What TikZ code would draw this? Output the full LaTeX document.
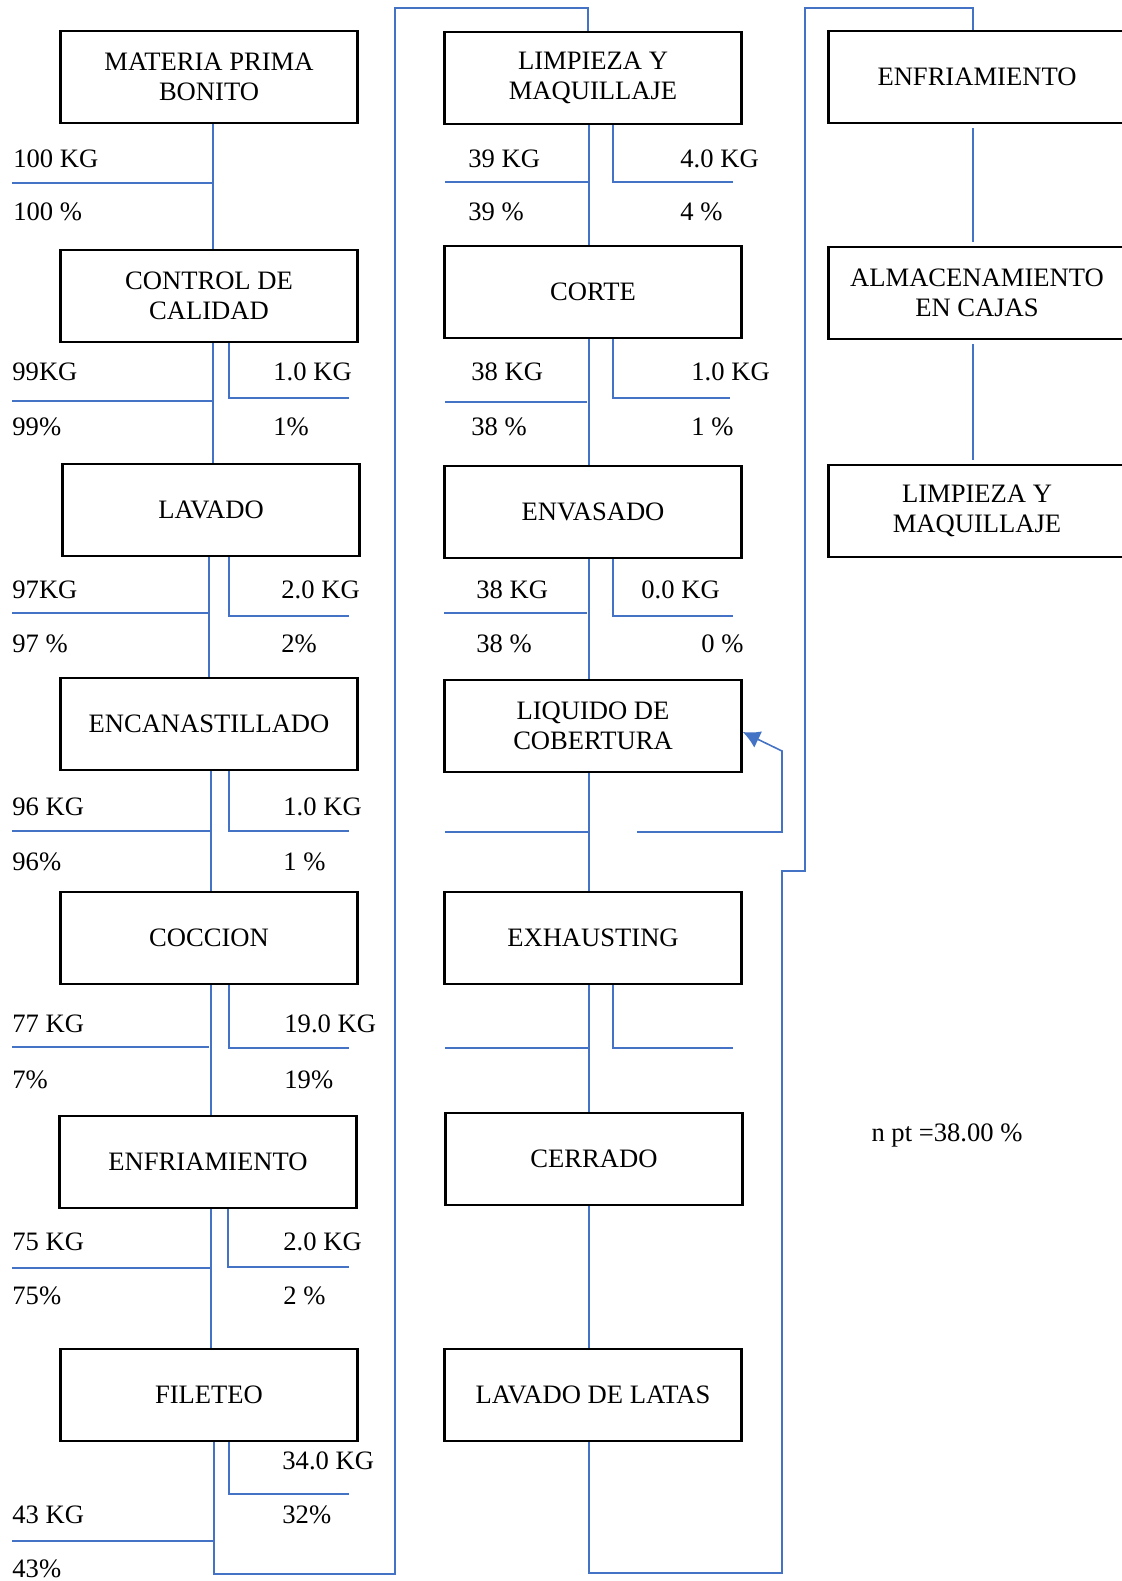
\documentclass[tikz,border=0pt]{standalone}
\usepackage{fontspec}
\setmainfont{Liberation Serif}
\usetikzlibrary{arrows.meta}
\definecolor{linea}{RGB}{68,114,196}
\tikzset{>={Latex[length=8.5pt,width=9pt]}}
\tikzset{
  paso/.style={draw, line width=1.3pt, minimum width=148.5pt, minimum height=46pt,
    align=center, inner sep=2pt, font=\fontsize{13.3pt}{15pt}\selectfont},
  dato/.style={anchor=west, inner sep=0pt, font=\fontsize{13.3pt}{15pt}\selectfont},
  flujo/.style={draw=linea, line width=0.8pt},
}

\begin{document}
\begin{tikzpicture}[x=0.5pt,y=-0.5pt]
\useasboundingbox (0,0) rectangle (1121,1581);

% Columna 1
\node[paso] (mp) at (209,77) {MATERIA PRIMA\\BONITO};
\node[paso] (cc) at (209,296) {CONTROL DE\\CALIDAD};
\node[paso] (lav) at (211,510) {LAVADO};
\node[paso] (enc) at (209,724) {ENCANASTILLADO};
\node[paso] (coc) at (209,938) {COCCION};
\node[paso] (enf) at (208,1162) {ENFRIAMIENTO};
\node[paso] (fil) at (209,1395) {FILETEO};

% Columna 2
\node[paso] (lim) at (593,78) {LIMPIEZA Y\\MAQUILLAJE};
\node[paso] (cor) at (593,292) {CORTE};
\node[paso] (env) at (593,512) {ENVASADO};
\node[paso] (liq) at (593,726) {LIQUIDO DE\\COBERTURA};
\node[paso] (exh) at (593,938) {EXHAUSTING};
\node[paso] (cer) at (594,1159) {CERRADO};
\node[paso] (lat) at (593,1395) {LAVADO DE LATAS};

% Columna 3
\node[paso] (enf2) at (977,77) {ENFRIAMIENTO};
\node[paso] (alm) at (977,293) {ALMACENAMIENTO\\EN CAJAS};
\node[paso] (lim2) at (977,511) {LIMPIEZA Y\\MAQUILLAJE};

\node[dato,anchor=center] (npt) at (947,1135) {n pt =38.00 \%};

% flujo columna 1
\coordinate (h1) at (12,183);
\coordinate (h2) at (12,401);  \coordinate (w2) at (349,398);
\coordinate (h3) at (12,613);  \coordinate (w3) at (349,616);
\coordinate (h4) at (12,831);  \coordinate (w4) at (349,831);
\coordinate (h5) at (12,1047); \coordinate (w5) at (349,1048);
\coordinate (h6) at (12,1268); \coordinate (w6) at (349,1267);
\coordinate (h7) at (12,1541); \coordinate (w7) at (349,1494);
\coordinate (fp1) at (395,1574);

\draw[flujo] ([xshift=2pt]mp.south) -- ([xshift=2pt]cc.north);
\draw[flujo] (h1) -- ([xshift=2pt]h1 -| mp.south);
\node[dato] (kg1) at (13,159) {100 KG};
\node[dato] (pc1) at (13,212) {100 \%};

\draw[flujo] ([xshift=2pt]cc.south) -- ([xshift=1pt]lav.north);
\draw[flujo] (h2) -- ([xshift=2pt]h2 -| cc.south);
\draw[flujo] ([xshift=10pt]cc.south) |- (w2);
\node[dato] (kg2) at (12,372) {99KG};
\node[dato] (pc2) at (12,427) {99\%};
\node[dato] (rk2) at (273,372) {1.0 KG};
\node[dato] (rp2) at (273,427) {1\%};

\draw[flujo] ([xshift=-1pt]lav.south) -- (enc.north);
\draw[flujo] (h3) -- (h3 -| enc.north);
\draw[flujo] ([xshift=9pt]lav.south) |- (w3);
\node[dato] (kg3) at (12,590) {97KG};
\node[dato] (pc3) at (12,644) {97 \%};
\node[dato] (rk3) at (281,590) {2.0 KG};
\node[dato] (rp3) at (281,644) {2\%};

\draw[flujo] ([xshift=1pt]enc.south) -- ([xshift=1pt]coc.north);
\draw[flujo] (h4) -- ([xshift=1pt]h4 -| enc.south);
\draw[flujo] ([xshift=10pt]enc.south) |- (w4);
\node[dato] (kg4) at (12,807) {96 KG};
\node[dato] (pc4) at (12,862) {96\%};
\node[dato] (rk4) at (283,807) {1.0 KG};
\node[dato] (rp4) at (283,862) {1 \%};

\draw[flujo] ([xshift=1pt]coc.south) -- ([xshift=1.5pt]enf.north);
\draw[flujo] (h5) -- (h5 -| coc.south);
\draw[flujo] ([xshift=10pt]coc.south) |- (w5);
\node[dato] (kg5) at (12,1024) {77 KG};
\node[dato] (pc5) at (12,1080) {7\%};
\node[dato] (rk5) at (284,1024) {19.0 KG};
\node[dato] (rp5) at (284,1080) {19\%};

\draw[flujo] ([xshift=1.5pt]enf.south) -- ([xshift=1pt]fil.north);
\draw[flujo] (h6) -- ([xshift=1pt]h6 -| enf.south);
\draw[flujo] ([xshift=10pt]enf.south) |- (w6);
\node[dato] (kg6) at (12,1242) {75 KG};
\node[dato] (pc6) at (12,1296) {75\%};
\node[dato] (rk6) at (283,1242) {2.0 KG};
\node[dato] (rp6) at (283,1296) {2 \%};

\draw[flujo] ([xshift=2.5pt]fil.south) |- (fp1) |- ([xshift=-2.5pt,yshift=11.5pt]lim.north) -- ([xshift=-2.5pt]lim.north);
\draw[flujo] (h7) -- ([xshift=2.5pt]h7 -| fil.south);
\draw[flujo] ([xshift=10pt]fil.south) |- (w7);
\node[dato] (rk7) at (282,1461) {34.0 KG};
\node[dato] (rp7) at (282,1515) {32\%};
\node[dato] (kg7) at (12,1515) {43 KG};
\node[dato] (pc7) at (12,1569) {43\%};

% flujo columna 2
\coordinate (k1) at (445,182);  \coordinate (v1) at (733,182);
\coordinate (k2) at (445,402);  \coordinate (v2) at (730,398);
\coordinate (k3) at (444,613);  \coordinate (v3) at (733,616);
\coordinate (k4) at (445,832);
\coordinate (g1) at (637,832);  \coordinate (g2) at (782,751);
\coordinate (k5) at (445,1048); \coordinate (v5) at (733,1048);
\coordinate (lp1) at (782,1573);
\coordinate (lp2) at (805,871);

\draw[flujo] ([xshift=-2pt]lim.south) -- ([xshift=-2pt]cor.north);
\draw[flujo] (k1) -- ([xshift=-2pt]k1 -| lim.south);
\draw[flujo] ([xshift=10pt]lim.south) |- (v1);
\node[dato] (kg8) at (468,159) {39 KG};
\node[dato] (pc8) at (468,212) {39 \%};
\node[dato] (rk8) at (680,159) {4.0 KG};
\node[dato] (rp8) at (680,212) {4 \%};

\draw[flujo] ([xshift=-2pt]cor.south) -- ([xshift=-2pt]env.north);
\draw[flujo] (k2) -- ([xshift=-3pt]k2 -| cor.south);
\draw[flujo] ([xshift=10pt]cor.south) |- (v2);
\node[dato] (kg9) at (471,372) {38 KG};
\node[dato] (pc9) at (471,427) {38 \%};
\node[dato] (rk9) at (691,372) {1.0 KG};
\node[dato] (rp9) at (691,427) {1 \%};

\draw[flujo] ([xshift=-2pt]env.south) -- ([xshift=-2pt]liq.north);
\draw[flujo] (k3) -- ([xshift=-3pt]k3 -| env.south);
\draw[flujo] ([xshift=10pt]env.south) |- (v3);
\node[dato] (kg10) at (476,590) {38 KG};
\node[dato] (pc10) at (476,644) {38 \%};
\node[dato] (rk10) at (641,590) {0.0 KG};
\node[dato] (rp10) at (701,644) {0 \%};

\draw[flujo] ([xshift=-2pt]liq.south) -- ([xshift=-2pt]exh.north);
\draw[flujo] (k4) -- ([xshift=-2pt]k4 -| liq.south);
\draw[flujo,->] (g1) -| (g2) -- ([yshift=-3pt]liq.east);

\draw[flujo] ([xshift=-2pt]exh.south) -- ([xshift=-2.5pt]cer.north);
\draw[flujo] (k5) -- ([xshift=-2pt]k5 -| exh.south);
\draw[flujo] ([xshift=10pt]exh.south) |- (v5);

\draw[flujo] ([xshift=-2.5pt]cer.south) -- ([xshift=-2pt]lat.north);

\draw[flujo] ([xshift=-2pt]lat.south) |- (lp1) |- (lp2) |- ([xshift=-2pt,yshift=11pt]enf2.north) -- ([xshift=-2pt]enf2.north);

% flujo columna 3
\draw[flujo] ([xshift=-2pt,yshift=-2pt]enf2.south) -- ([xshift=-2pt,yshift=2pt]alm.north);
\draw[flujo] ([xshift=-2pt,yshift=-2pt]alm.south) -- ([xshift=-2pt,yshift=2pt]lim2.north);

\end{tikzpicture}
\end{document}
